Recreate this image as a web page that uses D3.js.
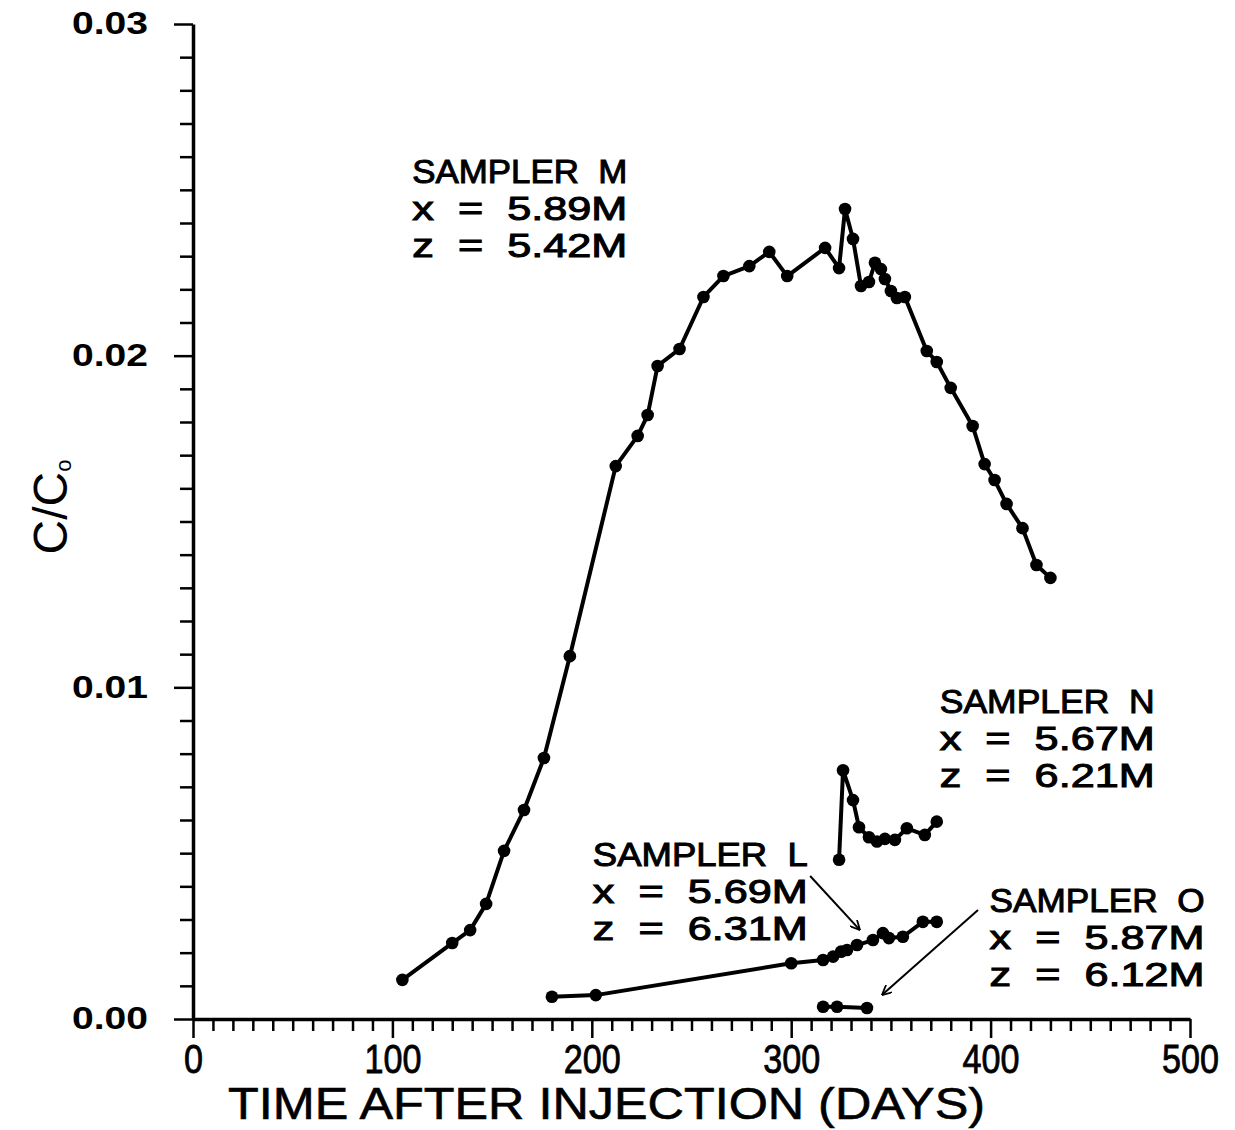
<!DOCTYPE html>
<head>
  <meta charset="utf-8">
  <script src="https://d3js.org/d3.v7.min.js"></script>
  <style>
    body { margin:0; background:#fff; }
    .axis path, .axis line { stroke:#000; }
  </style>
</head>
<body>
  <script>
    // sampler M
    var mDays = [105, 130, 139, 147, 156, 166, 176, 189, 212, 223, 228, 233, 244, 256, 266, 279, 289, 298,
                 317, 324, 327, 331, 335, 339, 342, 345, 347, 350, 353, 357, 368, 373, 380, 391, 397, 402, 408, 416, 423, 430];
    var mValues = [0.00118, 0.00229, 0.00268, 0.00347, 0.00507, 0.0063, 0.00787, 0.01094, 0.01667, 0.01758, 0.01821, 0.01969,
                   0.0202, 0.02177, 0.0224, 0.0227, 0.02313, 0.0224, 0.02325, 0.02264, 0.02442, 0.02352, 0.0221, 0.02222,
                   0.0228, 0.02261, 0.02231, 0.02195, 0.02174, 0.02177, 0.02014, 0.01981, 0.01903, 0.01788, 0.01673,
                   0.01625, 0.01553, 0.0148, 0.01369, 0.0133];
    // sampler N
    var nDays = [324, 326, 331, 334, 339, 343, 347, 352, 358, 367, 373];
    var nValues = [0.0048, 0.0075, 0.0066, 0.00578, 0.00548, 0.00535, 0.00543, 0.0054, 0.00575, 0.00555, 0.00595];
    // sampler L
    var lDays = [180, 202, 300, 316, 321, 325, 328, 333, 341, 346, 349, 356, 366, 373];
    var lValues = [0.00067, 0.00072, 0.00168, 0.00178, 0.00188, 0.00203, 0.00208, 0.00223, 0.00238, 0.00259, 0.00244, 0.00248, 0.00293, 0.00293];
    // sampler O
    var oDays = [316, 323, 338];
    var oValues = [0.00037, 0.00037, 0.00033];

    var xTicks = [0, 100, 200, 300, 400, 500];
    var yTicks = [0.00, 0.01, 0.02, 0.03];

    var labels = [
      { lines: ["SAMPLER  M", "x  =  5.89M", "z  =  5.42M"], day: 110, c: 0.0252 },
      { lines: ["SAMPLER  N", "x  =  5.67M", "z  =  6.21M"], day: 374.5, c: 0.00922 },
      { lines: ["SAMPLER  L", "x  =  5.69M", "z  =  6.31M"], day: 200.5, c: 0.00462 },
      { lines: ["SAMPLER  O", "x  =  5.87M", "z  =  6.12M"], day: 399.5, c: 0.00323 }
    ];
    var arrows = [
      { from: [309.5, 0.00431], to: [334.5, 0.00268] },
      { from: [393.7, 0.00329], to: [345.5, 0.00072] }
    ];

    var width = 1235, height = 1130;
    var svg = d3.select("body").append("svg")
      .attr("width", width)
      .attr("height", height)
      .style("font-family", "'Liberation Sans', Arial, sans-serif");

    var x = d3.scaleLinear().domain([0, 500]).range([193, 1190]);
    var y = d3.scaleLinear().domain([0, 0.03]).range([1019, 24]);

    svg.append("defs").append("marker")
      .attr("id", "head")
      .attr("viewBox", "0 0 10 10")
      .attr("refX", 10).attr("refY", 5)
      .attr("markerWidth", 10).attr("markerHeight", 10)
      .attr("markerUnits", "userSpaceOnUse")
      .attr("orient", "auto")
      .append("path")
      .attr("d", "M0,0 L10,5 L0,10")
      .attr("fill", "none")
      .attr("stroke", "#000")
      .attr("stroke-width", 1.8);

    // axes
    var xaxis = d3.axisBottom(x)
      .tickValues(d3.range(0, 501, 10))
      .tickSize(12)
      .tickSizeOuter(0)
      .tickFormat(function(d) { return xTicks.indexOf(d) >= 0 ? d : ""; });

    var gx = svg.append("g")
      .attr("class", "axis")
      .attr("transform", "translate(0," + y(0) + ")")
      .call(xaxis);
    gx.select(".domain").attr("stroke-width", 3.5);
    gx.selectAll(".tick line").attr("stroke-width", 2.5)
      .attr("y2", function(d) { return d % 100 === 0 ? 19 : 12; });
    gx.selectAll(".tick text")
      .attr("y", 26)
      .attr("dy", "0.71em")
      .style("font-size", "40px")
      .attr("fill", "#000")
      .attr("stroke", "#000")
      .attr("stroke-width", 0.8)
      .each(function() {
        var n = this.textContent.length;
        if (n) d3.select(this).attr("textLength", n * 19).attr("lengthAdjust", "spacingAndGlyphs");
      });

    var yaxis = d3.axisLeft(y)
      .tickValues(d3.range(0, 31).map(function(i) { return i / 1000; }))
      .tickSize(13)
      .tickSizeOuter(0)
      .tickFormat(function(d, i) { return i % 10 === 0 ? d3.format(".2f")(d) : ""; });

    var gy = svg.append("g")
      .attr("class", "axis")
      .attr("transform", "translate(" + x(0) + ",0)")
      .call(yaxis);
    gy.select(".domain").attr("stroke-width", 3.5);
    gy.selectAll(".tick line").attr("stroke-width", 2.5)
      .attr("x2", function(d, i) { return i % 10 === 0 ? -19 : -13; });
    gy.selectAll(".tick text")
      .attr("x", -45)
      .style("font-size", "31px")
      .style("font-weight", "bold")
      .attr("fill", "#000")
      .each(function() { if (this.textContent) d3.select(this).attr("textLength", 76).attr("lengthAdjust", "spacingAndGlyphs"); });

    // axis titles
    svg.append("text")
      .attr("x", 228)
      .attr("y", 1119)
      .attr("textLength", 757)
      .attr("lengthAdjust", "spacingAndGlyphs")
      .style("font-size", "44px")
      .attr("stroke", "#000")
      .attr("stroke-width", 0.6)
      .text("TIME AFTER INJECTION  (DAYS)");

    var yt = svg.append("text")
      .attr("transform", "translate(67, 507) rotate(-90)")
      .attr("text-anchor", "middle")
      .style("font-size", "48px");
    yt.append("tspan").text("C/C");
    yt.append("tspan").attr("dy", 4).style("font-size", "22px").text("o");

    // series
    var series = [
      { days: mDays, values: mValues },
      { days: nDays, values: nValues },
      { days: lDays, values: lValues },
      { days: oDays, values: oValues }
    ];

    var line = d3.line()
      .x(function(d) { return x(d[0]); })
      .y(function(d) { return y(d[1]); });

    series.forEach(function(s) {
      var pts = s.days.map(function(d, i) { return [d, s.values[i]]; });
      svg.append("path")
        .datum(pts)
        .attr("d", line)
        .attr("fill", "none")
        .attr("stroke", "#000")
        .attr("stroke-width", 4)
        .attr("stroke-linejoin", "round");
      svg.selectAll(null)
        .data(pts)
        .enter()
        .append("path")
        .attr("d", d3.symbol().type(d3.symbolCircle).size(125))
        .attr("transform", function(d) { return "translate(" + x(d[0]) + "," + y(d[1]) + ")"; })
        .attr("fill", "#000");
    });

    // labels
    labels.forEach(function(l) {
      var t = svg.append("text")
        .attr("x", x(l.day))
        .attr("y", y(l.c))
        .style("font-size", "33px")
        .attr("stroke", "#000")
        .attr("stroke-width", 1);
      l.lines.forEach(function(s, i) {
        t.append("tspan")
          .attr("x", x(l.day))
          .attr("dy", i === 0 ? 0 : 37)
          .attr("textLength", 215)
          .attr("lengthAdjust", "spacingAndGlyphs")
          .style("white-space", "pre")
          .text(s);
      });
    });

    svg.selectAll(".arrow")
      .data(arrows)
      .enter()
      .append("line")
      .attr("class", "arrow")
      .attr("x1", function(d) { return x(d.from[0]); })
      .attr("y1", function(d) { return y(d.from[1]); })
      .attr("x2", function(d) { return x(d.to[0]); })
      .attr("y2", function(d) { return y(d.to[1]); })
      .attr("stroke", "#000")
      .attr("stroke-width", 2)
      .attr("marker-end", "url(#head)");
  </script>
</body>
